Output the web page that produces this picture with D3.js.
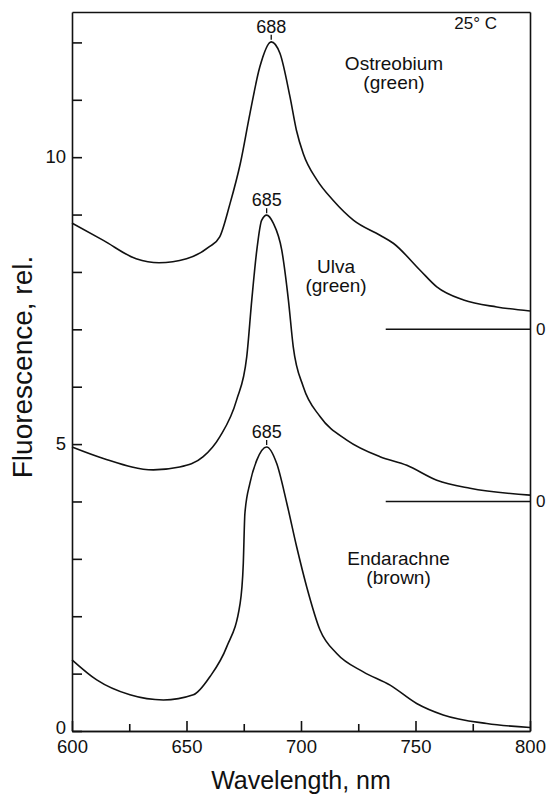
<!DOCTYPE html>
<html>
<head>
<meta charset="utf-8">
<script src="https://cdn.jsdelivr.net/npm/d3@7"></script>
<style>
  body { margin: 0; background: #fff; }
  svg text { font-family: "Liberation Sans", Arial, sans-serif; fill: #111; }
</style>
</head>
<body>
<svg id="chart" width="547" height="801"></svg>
<script>
// wavelength (nm) and fluorescence above each curve's own zero
var ostreobiumNm = [600, 613.7, 628, 638, 650, 660, 664.5, 669, 673.5, 677.7, 682, 687, 690.8, 695.2, 698, 701, 707, 714, 723, 734.5, 740.3, 752, 759.3, 771, 785.5, 800];
var ostreobiumF = [1.85, 1.55, 1.23, 1.16, 1.23, 1.44, 1.61, 2.19, 2.89, 3.76, 4.57, 5.01, 4.81, 4.05, 3.47, 3.06, 2.6, 2.25, 1.9, 1.64, 1.5, 1.03, 0.74, 0.51, 0.39, 0.32];

var ulvaNm = [600, 613.7, 635.5, 647, 657.3, 664.6, 671.9, 676.3, 678.5, 680.7, 682.8, 685, 687.9, 691.6, 694.5, 696.6, 701, 708.3, 720, 734.5, 746.2, 759.3, 773.8, 800];
var ulvaF = [0.95, 0.75, 0.55, 0.6, 0.78, 1.13, 1.77, 2.52, 3.51, 4.38, 4.9, 4.99, 4.85, 4.38, 3.51, 2.7, 2.0, 1.48, 1.07, 0.78, 0.63, 0.37, 0.23, 0.11];

var endarachneNm = [600, 610.8, 625.3, 639.9, 653, 660.3, 667.6, 673.4, 674.8, 675.5, 677.7, 680.7, 685, 689.4, 693.8, 698.1, 702.5, 708.3, 715.6, 727.2, 738.9, 750.5, 762.1, 781.1, 800];
var endarachneF = [1.24, 0.89, 0.63, 0.54, 0.63, 0.95, 1.47, 2.22, 2.92, 3.79, 4.32, 4.72, 4.95, 4.66, 3.97, 3.21, 2.51, 1.76, 1.35, 1.03, 0.8, 0.48, 0.28, 0.13, 0.06];

var speciesNames = ["Ostreobium", "Ulva", "Endarachne"];
var speciesGroups = ["(green)", "(green)", "(brown)"];
var baselineOffsets = [7, 4, 0];
var peakLabels = ["688", "685", "685"];

var xMajorTicks = [600, 650, 700, 750, 800];
var xMinorTicks = [625, 675, 725, 775];
var yTicks = [0, 1, 2, 3, 4, 5, 6, 7, 8, 9, 10, 11, 12];
var yLabelled = [0, 5, 10];

var svg = d3.select("#chart");

const padding = { top: 12, right: 17, bottom: 70, left: 72 };
var width = +svg.attr("width");
var height = +svg.attr("height");

var xScale = d3.scaleLinear()
  .domain([600, 800])
  .range([padding.left, width - padding.right]);

var yScale = d3.scaleLinear()
  .domain([0, 12.53])
  .range([height - padding.bottom, padding.top]);

var series = [
  { nm: ostreobiumNm, f: ostreobiumF },
  { nm: ulvaNm, f: ulvaF },
  { nm: endarachneNm, f: endarachneF }
].map(function(s, i) {
  return {
    name: speciesNames[i],
    group: speciesGroups[i],
    offset: baselineOffsets[i],
    peak: peakLabels[i],
    points: s.nm.map(function(d, j) { return { nm: d, v: s.f[j] + baselineOffsets[i] }; })
  };
});

// frame: top and right sides
svg.append("g")
  .attr("transform", `translate(0,${yScale(12.53)})`)
  .call(d3.axisTop(xScale).tickValues([]).tickSizeOuter(0));
svg.append("g")
  .attr("transform", `translate(${xScale(800)},0)`)
  .call(d3.axisRight(yScale).tickValues([]).tickSizeOuter(0));

// left axis, ticks inward
svg.append("g")
  .attr("class", "y-axis")
  .attr("transform", `translate(${xScale(600)},0)`)
  .call(d3.axisLeft(yScale)
    .tickValues(yTicks)
    .tickSize(-10)
    .tickSizeOuter(0)
    .tickPadding(6)
    .tickFormat(function(d) { return yLabelled.indexOf(d) >= 0 ? d : ""; }));

// bottom axis, minor then major ticks
svg.append("g")
  .attr("transform", `translate(0,${yScale(0)})`)
  .call(d3.axisBottom(xScale).tickValues(xMinorTicks).tickSize(-7).tickSizeOuter(0).tickFormat(""));
svg.append("g")
  .attr("class", "x-axis")
  .attr("transform", `translate(0,${yScale(0)})`)
  .call(d3.axisBottom(xScale)
    .tickValues(xMajorTicks)
    .tickSize(-10)
    .tickSizeOuter(0)
    .tickPadding(4)
    .tickFormat(d3.format("d")));

svg.selectAll(".domain, .tick line").attr("stroke", "#111").attr("stroke-width", 1.6);
svg.selectAll(".tick text")
  .attr("font-size", 18.5)
  .attr("font-family", "Liberation Sans, Arial, sans-serif")
  .attr("fill", "#111");
svg.selectAll(".x-axis .tick text").attr("dy", "0.95em");
svg.selectAll(".y-axis .tick text").attr("dy", function(d) { return d === 0 ? "0.15em" : "0.3em"; });

// zero lines for the shifted curves
series.filter(function(s) { return s.offset > 0; }).forEach(function(s) {
  svg.append("line")
    .attr("x1", xScale(737))
    .attr("x2", xScale(800))
    .attr("y1", yScale(s.offset))
    .attr("y2", yScale(s.offset))
    .attr("stroke", "#111")
    .attr("stroke-width", 1.6);
  svg.append("text")
    .attr("x", xScale(800) + 6)
    .attr("y", yScale(s.offset))
    .attr("dy", "0.35em")
    .attr("font-size", 17)
    .text("0");
});

var line = d3.line()
  .x(function(d) { return xScale(d.nm); })
  .y(function(d) { return yScale(d.v); })
  .curve(d3.curveMonotoneX);

svg.selectAll(".spectrum")
  .data(series)
  .enter()
  .append("path")
  .attr("class", "spectrum")
  .attr("d", function(d) { return line(d.points); })
  .attr("fill", "none")
  .attr("stroke", "#111")
  .attr("stroke-width", 1.6);

// peak markers
series.forEach(function(s) {
  var top = s.points.reduce(function(a, b) { return b.v > a.v ? b : a; });
  var px = xScale(top.nm);
  var py = yScale(top.v);
  svg.append("line")
    .attr("x1", px).attr("x2", px)
    .attr("y1", py - 2).attr("y2", py - 7)
    .attr("stroke", "#111")
    .attr("stroke-width", 1.3);
  svg.append("text")
    .attr("x", px)
    .attr("y", py - 9)
    .attr("text-anchor", "middle")
    .attr("font-size", 18)
    .text(s.peak);
});

// species names
var namePos = [[740.6, 11.52], [715.3, 7.98], [742.6, 2.89]];
series.forEach(function(s, i) {
  var t = svg.append("text")
    .attr("text-anchor", "middle")
    .attr("font-size", 19)
    .attr("x", xScale(namePos[i][0]))
    .attr("y", yScale(namePos[i][1]));
  t.append("tspan").attr("x", xScale(namePos[i][0])).text(s.name);
  t.append("tspan").attr("x", xScale(namePos[i][0])).attr("dy", 19).text(s.group);
});

svg.append("text")
  .attr("x", xScale(785.6))
  .attr("y", yScale(12.23))
  .attr("text-anchor", "end")
  .attr("font-size", 17)
  .text("25\u00b0 C");

// axis titles
svg.append("text")
  .attr("x", (xScale(600) + xScale(800)) / 2)
  .attr("y", 789)
  .attr("text-anchor", "middle")
  .attr("font-size", 25)
  .text("Wavelength, nm");

svg.append("text")
  .attr("transform", "rotate(-90)")
  .attr("x", -367)
  .attr("y", 32)
  .attr("text-anchor", "middle")
  .attr("font-size", 28)
  .text("Fluorescence, rel.");
</script>
</body>
</html>
